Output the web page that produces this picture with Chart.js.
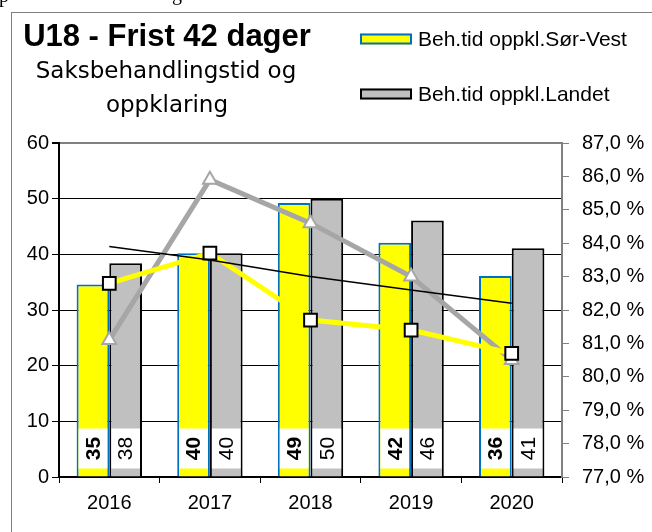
<!DOCTYPE html>
<html>
<head>
<meta charset="utf-8">
<script src="https://cdn.jsdelivr.net/npm/chart.js@4"></script>
<style>
  html, body { margin: 0; padding: 0; background: #fff; }
  #wrap { width: 652px; height: 532px; position: relative; }
</style>
</head>
<body>
<div id="wrap"><canvas id="c" width="652" height="532"></canvas></div>
<script>
// ---- data ----
const categories = ['2016', '2017', '2018', '2019', '2020'];
const timeSorVest = [34.6, 40.2, 49.2, 42.1, 36.1];   // bars, days (left axis)
const timeLandet  = [38.4, 40.2, 50.0, 46.1, 41.1];   // bars, days (left axis)
const clearSorVest = [82.8, 83.7, 81.7, 81.4, 80.7];  // line, % (right axis)
const clearLandet  = [81.1, 85.9, 84.6, 83.0, 80.5];  // line, % (right axis)
const trendLandet  = [83.9, 83.5, 83.0, 82.6, 82.2];  // linear trend line (right axis)
const leftTicks = [0, 60, 10];     // min, max, step
const rightTicks = [77, 87, 1];    // min, max, step
const titleText = 'U18 - Frist 42 dager';
const subtitleLines = ['Saksbehandlingstid og', 'oppklaring'];
const legendLabels = ['Beh.tid oppkl.Sør-Vest', 'Beh.tid oppkl.Landet'];

const FONT = "'Liberation Sans', Arial, sans-serif";

const overlay = {
  id: 'overlay',
  beforeDraw(chart) {
    const ctx = chart.ctx;
    ctx.save();
    ctx.fillStyle = '#fff';
    ctx.fillRect(0, 0, chart.width, chart.height);
    ctx.restore();
  },
  afterDatasetDraw(chart, args) {
    const ds = chart.data.datasets[args.index];
    if (ds.type !== 'bar') return;
    const ctx = chart.ctx;
    const meta = args.meta;
    ctx.save();
    meta.data.forEach((el, i) => {
      const p = el.getProps(['x', 'y', 'base', 'width'], true);
      const bw = ds.borderWidth;
      const left = p.x - p.width / 2 + bw;
      const w = p.width - 2 * bw;
      ctx.fillStyle = '#fff';
      ctx.fillRect(left, p.base - 48, w, 40);
      ctx.save();
      ctx.translate(p.x, p.base - 28);
      ctx.rotate(-Math.PI / 2);
      ctx.fillStyle = '#000';
      ctx.textAlign = 'center';
      ctx.textBaseline = 'middle';
      ctx.font = (ds.labelBold ? 'bold ' : '') + '21px ' + FONT;
      ctx.fillText(String(Math.round(ds.data[i])), 0, 1);
      ctx.restore();
    });
    ctx.restore();
  },
  afterDraw(chart) {
    const ctx = chart.ctx;
    ctx.save();
    // cut-off text fragments above the frame
    ctx.fillStyle = '#000';
    ctx.font = "20px 'Liberation Serif', serif";
    ctx.textBaseline = 'alphabetic';
    ctx.textAlign = 'left';
    ctx.fillText('p', -1, 2);
    ctx.fillText('g', 172, 0);
    // outer frame
    ctx.strokeStyle = '#808080';
    ctx.lineWidth = 1;
    ctx.strokeRect(11.5, 12.5, 700, 600);
    // title
    ctx.textAlign = 'center';
    ctx.fillStyle = '#000';
    ctx.font = 'bold 31px ' + FONT;
    ctx.fillText(titleText, 167, 46);
    ctx.font = "23px 'DejaVu Sans', sans-serif";
    ctx.fillText(subtitleLines[0], 166, 78);
    ctx.fillText(subtitleLines[1], 167, 112);
    // legend
    const bars = chart.data.datasets.filter(d => d.type === 'bar');
    const rows = [{ y: 39 }, { y: 94 }];
    bars.forEach((d, i) => {
      const cy = rows[i].y;
      ctx.fillStyle = d.backgroundColor;
      ctx.fillRect(360, cy - 5.5, 52, 11);
      ctx.strokeStyle = d.borderColor;
      ctx.lineWidth = 2;
      ctx.strokeRect(361, cy - 4.5, 50, 9);
      ctx.fillStyle = '#000';
      ctx.textAlign = 'left';
      ctx.font = '21px ' + FONT;
      ctx.fillText(legendLabels[i], 418, cy + 7);
    });
    ctx.restore();
  }
};

const fmtPct = v => v.toFixed(1).replace('.', ',') + ' %';

new Chart(document.getElementById('c'), {
  data: {
    labels: categories,
    datasets: [
      {
        type: 'line', label: 'Trend', data: trendLandet, yAxisID: 'yR', order: 1,
        borderColor: '#000', borderWidth: 1.5, pointRadius: 0, tension: 0
      },
      {
        type: 'line', label: 'Oppklaring Sør-Vest', data: clearSorVest, yAxisID: 'yR', order: 2,
        borderColor: '#FFFF00', borderWidth: 5, tension: 0,
        pointStyle: 'rect', pointRadius: 9, pointBackgroundColor: '#fff',
        pointBorderColor: '#000', pointBorderWidth: 2
      },
      {
        type: 'line', label: 'Oppklaring Landet', data: clearLandet, yAxisID: 'yR', order: 3,
        borderColor: '#A6A6A6', borderWidth: 5, tension: 0,
        pointStyle: 'triangle', pointRadius: 8, pointBackgroundColor: '#fff',
        pointBorderColor: '#A6A6A6', pointBorderWidth: 2
      },
      {
        type: 'bar', label: legendLabels[0], data: timeSorVest, yAxisID: 'yL', order: 10,
        backgroundColor: '#FFFF00', borderColor: '#0070C0', borderWidth: 2,
        borderSkipped: 'bottom', categoryPercentage: 0.65, barPercentage: 1.0, labelBold: true
      },
      {
        type: 'bar', label: legendLabels[1], data: timeLandet, yAxisID: 'yL', order: 11,
        backgroundColor: '#C0C0C0', borderColor: '#000', borderWidth: 2,
        borderSkipped: 'bottom', categoryPercentage: 0.65, barPercentage: 1.0, labelBold: false
      }
    ]
  },
  options: {
    responsive: false,
    animation: false,
    devicePixelRatio: 1,
    layout: { padding: { left: 0, right: 0, top: 143, bottom: 15 } },
    plugins: { legend: { display: false }, tooltip: { enabled: false }, title: { display: false } },
    scales: {
      x: {
        type: 'category',
        offset: true,
        afterFit(s) { s.height = 40; },
        grid: { display: true, drawOnChartArea: false, offset: true, tickLength: 6, color: '#000', lineWidth: 1 },
        border: { display: true, color: '#000', width: 2 },
        ticks: { color: '#000', font: { family: FONT, size: 20 }, padding: 8, maxRotation: 0 }
      },
      yL: {
        position: 'left',
        min: leftTicks[0], max: leftTicks[1],
        afterFit(s) { s.width = 59; },
        ticks: { stepSize: leftTicks[2], color: '#000', font: { family: FONT, size: 20 }, padding: 3 },
        grid: {
          color: c => (c.tick && c.tick.value === leftTicks[1]) ? '#808080' : '#000',
          lineWidth: c => (c.tick && c.tick.value === leftTicks[1]) ? 2 : 1,
          tickColor: '#000', tickLength: 7
        },
        border: { display: true, color: '#000', width: 2 }
      },
      yR: {
        position: 'right',
        min: rightTicks[0], max: rightTicks[1],
        afterFit(s) { s.width = 90; },
        ticks: { stepSize: rightTicks[2], color: '#000', font: { family: FONT, size: 20 }, padding: 13,
                 callback: v => fmtPct(v) },
        grid: { drawOnChartArea: false, tickColor: '#808080', tickLength: 7 },
        border: { display: true, color: '#808080', width: 2 }
      }
    }
  },
  plugins: [overlay]
});
</script>
</body>
</html>
